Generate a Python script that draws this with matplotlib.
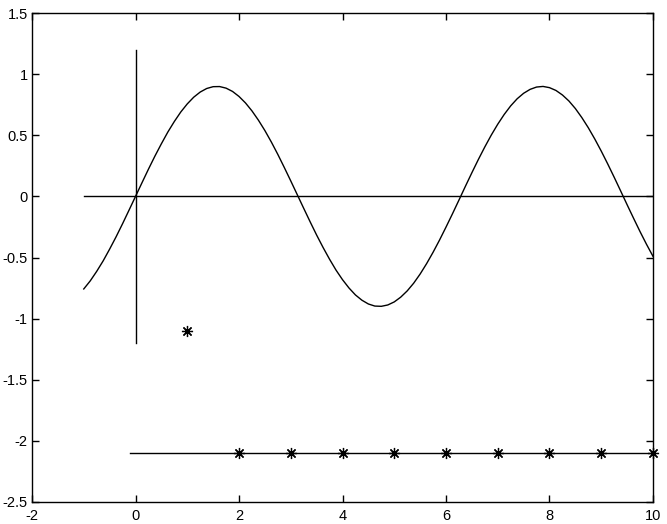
import matplotlib
matplotlib.use('Agg')
import matplotlib.pyplot as plt

# curve values, x step 0.125
curve_x = [-1 + 0.125 * i for i in range(89)]
curve_y = [-0.757, -0.691, -0.613, -0.527, -0.431, -0.330, -0.223, -0.112,
           0.0, 0.112, 0.223, 0.330, 0.431, 0.527, 0.613, 0.691,
           0.757, 0.812, 0.854, 0.883, 0.898, 0.899, 0.886, 0.859,
           0.818, 0.765, 0.700, 0.624, 0.539, 0.445, 0.344, 0.237,
           0.127, 0.015, -0.097, -0.208, -0.316, -0.418, -0.514, -0.603,
           -0.681, -0.749, -0.806, -0.849, -0.880, -0.897, -0.899, -0.888,
           -0.863, -0.824, -0.773, -0.710, -0.635, -0.550, -0.457, -0.357,
           -0.251, -0.142, -0.030, 0.083, 0.194, 0.302, 0.405, 0.502,
           0.591, 0.671, 0.741, 0.799, 0.844, 0.876, 0.895, 0.900,
           0.890, 0.867, 0.830, 0.781, 0.719, 0.645, 0.562, 0.470,
           0.371, 0.266, 0.157, 0.045, -0.068, -0.179, -0.288, -0.392,
           -0.490]

hline_x = [-1, 10]
hline_y = [0, 0]
vline_x = [0, 0]
vline_y = [-1.2, 1.2]
lone_star_x = [1]
lone_star_y = [-1.1]
base_x = [-0.1, 10]
base_y = [-2.1, -2.1]
stars_x = [2, 3, 4, 5, 6, 7, 8, 9, 10]
stars_y = [-2.1] * 9

xticks = [-2, 0, 2, 4, 6, 8, 10]
yticks = [-2.5, -2, -1.5, -1, -0.5, 0, 0.5, 1, 1.5]
yticklabels = ['-2.5', '-2', '-1.5', '-1', '-0.5', '0', '0.5', '1', '1.5']

plt.rcParams['font.family'] = ['Liberation Sans', 'DejaVu Sans']
fig = plt.figure(figsize=(6.67, 5.24), dpi=100)
ax = fig.add_axes([0.048, 0.042, 0.931, 0.933])

lw = 1.0
ax.plot(curve_x, curve_y, color='black', lw=lw)
ax.plot(hline_x, hline_y, color='black', lw=lw)
ax.plot(vline_x, vline_y, color='black', lw=lw)
ax.plot(base_x, base_y, color='black', lw=lw)
# matlab-style asterisk: plus and cross together
ax.plot(lone_star_x, lone_star_y, ls='none', marker=(8, 2, 0), color='black', ms=8, mew=0.9)
ax.plot(stars_x, stars_y, ls='none', marker=(8, 2, 0), color='black', ms=8, mew=0.9, clip_on=False)

ax.set_xlim(-2, 10)
ax.set_ylim(-2.5, 1.5)
ax.set_xticks(xticks)
ax.set_xticklabels([str(t) for t in xticks])
ax.set_yticks(yticks)
ax.set_yticklabels(yticklabels)
ax.tick_params(direction='in', top=True, right=True, length=5, width=1, labelsize=10.5)
ax.tick_params(axis='y', pad=3)
ax.tick_params(axis='x', pad=5)
for s in ax.spines.values():
    s.set_linewidth(1)

fig.savefig('out.png', dpi=100)
